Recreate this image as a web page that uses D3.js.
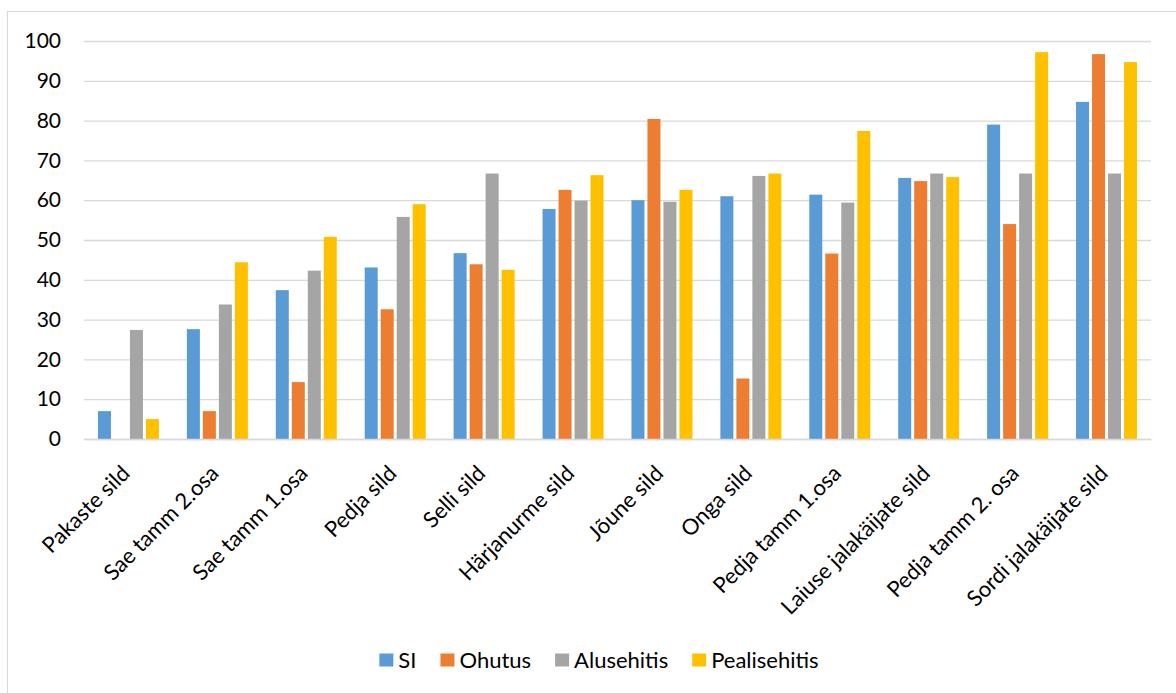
<!DOCTYPE html>
<html>
<head>
<meta charset="utf-8">
<script src="https://cdn.jsdelivr.net/npm/d3@7"></script>
<style>
  body { margin: 0; background: #fff; }
  svg { display: block; font-family: Lato, "Open Sans", sans-serif; }
</style>
</head>
<body>
<div class="graph"></div>
<script>
let w = 1176;
let h = 693;

let categories = [
  "Pakaste sild", "Sae tamm 2.osa", "Sae tamm 1.osa", "Pedja sild", "Selli sild",
  "Härjanurme sild", "Jõune sild", "Onga sild", "Pedja tamm 1.osa",
  "Laiuse jalakäijate sild", "Pedja tamm 2. osa", "Sordi jalakäijate sild"
];
let seriesNames = ["SI", "Ohutus", "Alusehitis", "Pealisehitis"];
let seriesColors = ["#5B9BD5", "#ED7D31", "#A5A5A5", "#FFC000"];

let siValues = [7, 27.6, 37.4, 43.1, 46.7, 57.8, 60, 61, 61.4, 65.6, 79, 84.7];
let ohutusValues = [0, 7, 14.3, 32.6, 43.9, 62.6, 80.4, 15.2, 46.6, 64.8, 54, 96.7];
let alusValues = [27.4, 33.8, 42.3, 55.8, 66.7, 59.9, 59.6, 66.1, 59.4, 66.7, 66.7, 66.7];
let pealisValues = [5, 44.4, 50.8, 59, 42.5, 66.3, 62.6, 66.7, 77.4, 65.8, 97.2, 94.7];
let yTicks = [0, 10, 20, 30, 40, 50, 60, 70, 80, 90, 100];

let seriesValues = [siValues, ohutusValues, alusValues, pealisValues];

let svg = d3.select(".graph").append("svg").attr("width", w).attr("height", h);

// chart frame
svg.append("rect")
  .attr("x", 7.5).attr("y", 11.5)
  .attr("width", 1200).attr("height", 720)
  .attr("fill", "none").attr("stroke", "#D9D9D9").attr("stroke-width", 1);

let plotLeft = 84, plotRight = 1151, plotTop = 41, plotBottom = 439;

let x0 = d3.scaleBand().domain(categories).range([plotLeft, plotRight]).paddingInner(0).paddingOuter(0);
let groupW = 61;
let x1 = d3.scaleBand().domain(seriesNames)
  .range([(x0.bandwidth() - groupW) / 2, (x0.bandwidth() + groupW) / 2])
  .paddingInner(3 / 16).paddingOuter(0);
let y = d3.scaleLinear().domain([0, 100]).range([plotBottom, plotTop]);
let color = d3.scaleOrdinal().domain(seriesNames).range(seriesColors);

// gridlines
let yAxis = d3.axisLeft(y).tickValues(yTicks).tickSize(-(plotRight - plotLeft)).tickPadding(23);
let gy = svg.append("g").attr("transform", "translate(" + plotLeft + ",0)").call(yAxis);
gy.select(".domain").remove();
gy.selectAll(".tick line").attr("stroke", "#D9D9D9").attr("stroke-width", 1.3);
gy.selectAll(".tick text")
  .attr("font-size", 21).attr("fill", "#000")
  .style("font-family", "Lato, sans-serif");

// bars
let rows = [];
categories.forEach(function (c, i) {
  seriesNames.forEach(function (s, j) {
    rows.push({ cat: c, series: s, value: seriesValues[j][i] });
  });
});

svg.append("g").selectAll("rect")
  .data(rows)
  .enter()
  .append("rect")
  .attr("x", d => x0(d.cat) + x1(d.series))
  .attr("y", d => y(d.value))
  .attr("width", x1.bandwidth())
  .attr("height", d => y(0) - y(d.value))
  .attr("fill", d => color(d.series));

// category labels
let xAxis = d3.axisBottom(x0).tickSize(0).tickPadding(0);
let gx = svg.append("g").attr("transform", "translate(0," + plotBottom + ")").call(xAxis);
gx.select(".domain").attr("stroke", "#D9D9D9").attr("stroke-width", 1.3);
gx.selectAll(".tick text")
  .attr("font-size", 22).attr("fill", "#000")
  .style("font-family", "Lato, sans-serif")
  .attr("text-anchor", "end")
  .attr("y", 0).attr("dy", "0.75em")
  .attr("transform", "translate(-9,24) rotate(-45)");

// legend
let legend = svg.append("g");
let lx = 0;
seriesNames.forEach(function (s, i) {
  let item = legend.append("g").attr("transform", "translate(" + lx + ",0)");
  item.append("rect").attr("x", 0).attr("y", -6.5).attr("width", 14).attr("height", 13)
    .attr("fill", seriesColors[i]);
  let t = item.append("text").attr("x", 19).attr("y", 8)
    .attr("font-size", 22).attr("fill", "#000").text(s);
  lx += 19 + t.node().getComputedTextLength() + 24;
});
let legendW = lx - 24;
legend.attr("transform", "translate(" + (599 - legendW / 2) + ",660)");
</script>
</body>
</html>
